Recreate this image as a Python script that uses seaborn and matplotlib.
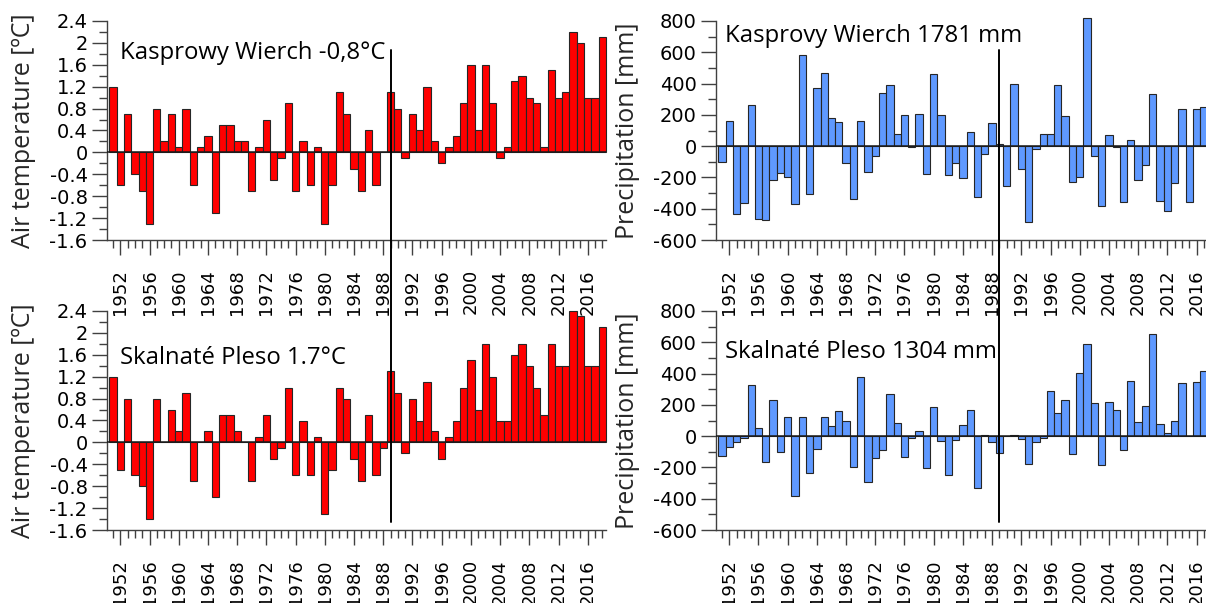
import numpy as np
import pandas as pd
import matplotlib
matplotlib.use("Agg")
import matplotlib.pyplot as plt
import matplotlib.ticker as mticker
from matplotlib.lines import Line2D
from matplotlib.transforms import blended_transform_factory
import seaborn as sns

# ---------------- data ----------------
years_temp = list(range(1951, 2019))
years_prec = list(range(1951, 2018))

temp_kasprowy = [
    1.2, -0.6, 0.7, -0.4, -0.7, -1.3, 0.8, 0.2, 0.7, 0.1,
    0.8, -0.6, 0.1, 0.3, -1.1, 0.5, 0.5, 0.2, 0.2, -0.7,
    0.1, 0.6, -0.5, -0.1, 0.9, -0.7, 0.2, -0.6, 0.1, -1.3,
    -0.6, 1.1, 0.7, -0.3, -0.7, 0.4, -0.6, 0.0, 1.1, 0.8,
    -0.1, 0.7, 0.4, 1.2, 0.2, -0.2, 0.1, 0.3, 0.9, 1.6,
    0.4, 1.6, 0.9, -0.1, 0.1, 1.3, 1.4, 1.0, 0.9, 0.1,
    1.5, 1.0, 1.1, 2.2, 2.0, 1.0, 1.0, 2.1,
]
temp_skalnate = [
    1.2, -0.5, 0.8, -0.6, -0.8, -1.4, 0.8, 0.0, 0.6, 0.2,
    0.9, -0.7, 0.0, 0.2, -1.0, 0.5, 0.5, 0.2, 0.0, -0.7,
    0.1, 0.5, -0.3, -0.1, 1.0, -0.6, 0.4, -0.6, 0.1, -1.3,
    -0.5, 1.0, 0.8, -0.3, -0.7, 0.5, -0.6, -0.1, 1.3, 0.9,
    -0.2, 0.8, 0.4, 1.1, 0.2, -0.3, 0.1, 0.4, 1.0, 1.5,
    0.6, 1.8, 1.2, 0.4, 0.4, 1.6, 1.8, 1.4, 1.0, 0.5,
    1.8, 1.4, 1.4, 2.4, 2.3, 1.4, 1.4, 2.1,
]
prec_kasprowy = [
    -100, 160, -435, -365, 260, -465, -470, -215, -170, -200,
    -370, 580, -305, 370, 470, 180, 155, -110, -335, 160,
    -165, -65, 340, 390, 75, 200, -5, 205, -175, 460,
    200, -185, -110, -205, 90, -325, -50, 145, 15, -255,
    395, -145, -485, -20, 75, 80, 390, 195, -230, -200,
    820, -65, -385, 70, -5, -360, 40, -215, -120, 335,
    -350, -415, -235, 235, -355, 240, 250,
]
prec_skalnate = [
    -130, -70, -40, -15, 325, 50, -165, 230, -100, 125,
    -380, 125, -235, -80, 125, 65, 160, 100, -200, 375,
    -295, -140, -90, 270, 85, -135, -10, 30, -205, 185,
    -30, -250, -25, 70, 170, -330, 10, -40, -110, 0,
    5, -20, -180, -40, -15, 290, 145, 230, -115, 405,
    590, 210, -185, 220, 165, -90, 355, 90, 190, 655,
    75, 20, 100, 340, 0, 345, 415,
]

titles = ["Kasprowy Wierch -0,8°C", "Kasprovy Wierch 1781 mm",
          "Skalnaté Pleso 1.7°C", "Skalnaté Pleso 1304 mm"]
ylab_temp = "Air temperature [ºC]"
ylab_prec = "Precipitation [mm]"
break_year = 1989

# ---------------- style ----------------
sns.set_style("ticks")
plt.rcParams["font.family"] = ["DejaVu Sans"]
plt.rcParams["axes.unicode_minus"] = False

RED = "#FF0000"
BLUE = "#5F99FF"
EDGE = "#262626"
AXC = "#404040"
TITLE_FONT = ["Open Sans", "DejaVu Sans"]

fig = plt.figure(figsize=(12.06, 6.03), dpi=100)
W, H = 1206, 603

def px_axes(left, top, right, bottom):
    return fig.add_axes([left / W, 1 - bottom / H, (right - left) / W, (bottom - top) / H])

ax_tl = px_axes(107, 21, 606, 240)
ax_tr = px_axes(716, 21, 1206, 240)
ax_bl = px_axes(107, 311, 606, 530)
ax_br = px_axes(716, 311, 1206, 530)

panels = [
    (ax_tl, years_temp, temp_kasprowy, RED, (-1.6, 2.4), 0.4, 0.2, (1950.18, 2018.5), titles[0], 0.826, 0.026),
    (ax_tr, years_prec, prec_kasprowy, BLUE, (-600, 800), 200, 100, (1950.18, 2017.3), titles[1], 0.904, 0.018),
    (ax_bl, years_temp, temp_skalnate, RED, (-1.6, 2.4), 0.4, 0.2, (1950.18, 2018.5), titles[2], 0.758, 0.026),
    (ax_br, years_prec, prec_skalnate, BLUE, (-600, 800), 200, 100, (1950.18, 2017.3), titles[3], 0.785, 0.018),
]

for ax, yrs, vals, col, ylim, major, minor, xlim, title, ty, tx in panels:
    df = pd.DataFrame({"year": yrs, "value": vals})
    sns.barplot(data=df, x="year", y="value", native_scale=True, width=1.0,
                color=col, saturation=1, edgecolor=EDGE, linewidth=0.8,
                errorbar=None, ax=ax, zorder=2)
    for p in ax.patches:
        p.set_clip_on(False)
    ax.axhline(0, color="#1a1a1a", lw=1.1, zorder=3)
    ax.set_xlim(*xlim)
    ax.set_ylim(*ylim)
    ax.set_xlabel("")
    ax.set_ylabel("")
    ax.xaxis.set_major_locator(mticker.MultipleLocator(4))
    ax.xaxis.set_minor_locator(mticker.MultipleLocator(1))
    ax.xaxis.set_major_formatter(mticker.FuncFormatter(lambda v, p: f"{int(round(v))}"))
    ax.yaxis.set_major_locator(mticker.MultipleLocator(major))
    ax.yaxis.set_minor_locator(mticker.MultipleLocator(minor))
    ax.yaxis.set_major_formatter(mticker.FuncFormatter(lambda v, p: f"{round(v, 2):g}"))
    for s in ["top", "right"]:
        ax.spines[s].set_visible(False)
    for s in ["left", "bottom"]:
        ax.spines[s].set_color(AXC)
        ax.spines[s].set_linewidth(1.0)
    ax.tick_params(axis="both", which="major", direction="out", length=11,
                   width=1.0, color=AXC, labelsize=14, labelcolor="black")
    ax.tick_params(axis="both", which="minor", direction="out", length=5.5,
                   width=1.0, color=AXC)
    ax.tick_params(axis="x", which="major", pad=10, labelrotation=90, labelsize=13)
    ax.tick_params(axis="y", which="major", pad=3)
    for lab in ax.get_xticklabels():
        lab.set_verticalalignment("top")
    ax.set_facecolor("none")
    ax.text(tx, ty, title, transform=ax.transAxes, ha="left", va="baseline",
            fontsize=17.2, family=TITLE_FONT, color="black", zorder=5)

# y labels
for xpx, ypx, txt in [(24, 131, ylab_temp), (24, 421, ylab_temp),
                      (627, 131, ylab_prec), (627, 421, ylab_prec)]:
    fig.text(xpx / W, 1 - ypx / H, txt, rotation=90, ha="center", va="center",
             fontsize=18, family=TITLE_FONT)

# vertical break line spanning both rows of each column
for ax in (ax_tl, ax_tr):
    tr = blended_transform_factory(ax.transData, fig.transFigure)
    fig.add_artist(Line2D([break_year, break_year], [1 - 50 / H, 1 - 522 / H],
                          transform=tr, color="black", lw=1.4, zorder=10))

fig.savefig("out.png", dpi=100, facecolor="white")
